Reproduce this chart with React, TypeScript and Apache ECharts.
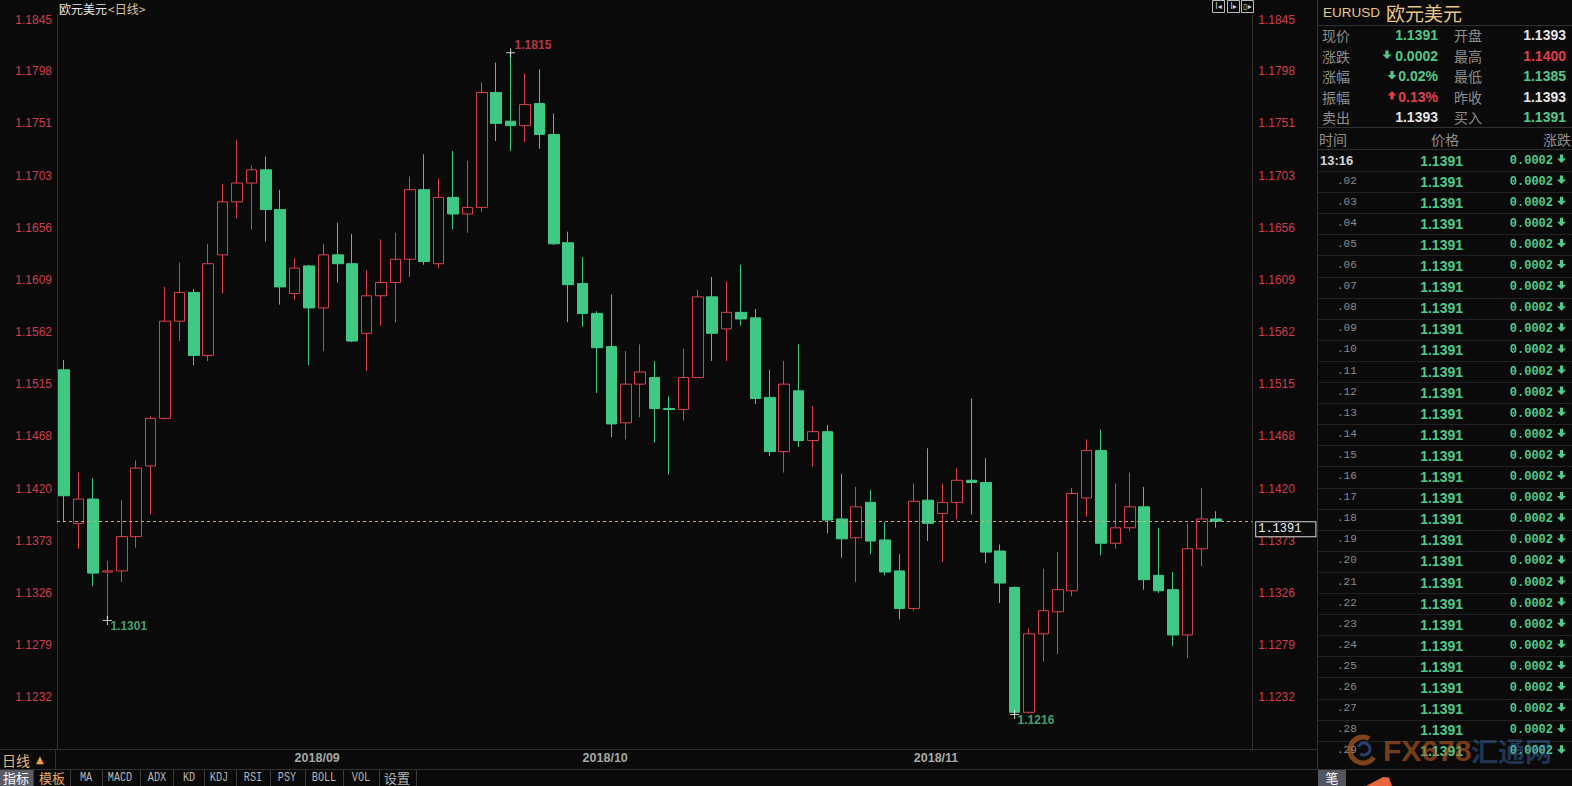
import React, { useEffect, useRef } from 'react';
import * as echarts from 'echarts';

// ---------------- DATA ----------------
const dates = [
  '2018/08/10', '2018/08/13', '2018/08/14', '2018/08/15', '2018/08/16', '2018/08/17', '2018/08/20', '2018/08/21',
  '2018/08/22', '2018/08/23', '2018/08/24', '2018/08/27', '2018/08/28', '2018/08/29', '2018/08/30', '2018/08/31',
  '2018/09/03', '2018/09/04', '2018/09/05', '2018/09/06', '2018/09/07', '2018/09/10', '2018/09/11', '2018/09/12',
  '2018/09/13', '2018/09/14', '2018/09/17', '2018/09/18', '2018/09/19', '2018/09/20', '2018/09/21', '2018/09/24',
  '2018/09/25', '2018/09/26', '2018/09/27', '2018/09/28', '2018/10/01', '2018/10/02', '2018/10/03', '2018/10/04',
  '2018/10/05', '2018/10/08', '2018/10/09', '2018/10/10', '2018/10/11', '2018/10/12', '2018/10/15', '2018/10/16',
  '2018/10/17', '2018/10/18', '2018/10/19', '2018/10/22', '2018/10/23', '2018/10/24', '2018/10/25', '2018/10/26',
  '2018/10/29', '2018/10/30', '2018/10/31', '2018/11/01', '2018/11/02', '2018/11/05', '2018/11/06', '2018/11/07',
  '2018/11/08', '2018/11/09', '2018/11/12', '2018/11/13', '2018/11/14', '2018/11/15', '2018/11/16', '2018/11/19',
  '2018/11/20', '2018/11/21', '2018/11/22', '2018/11/23', '2018/11/26', '2018/11/27', '2018/11/28', '2018/11/29',
  '2018/11/30',
];

const opens = [
  1.1528, 1.1389, 1.1411, 1.1345, 1.1346, 1.1377, 1.1441, 1.1484, 1.1572, 1.1598,
  1.1541, 1.1632, 1.1680, 1.1697, 1.1709, 1.1673, 1.1597, 1.1622, 1.1584, 1.1632,
  1.1624, 1.1561, 1.1595, 1.1607, 1.1628, 1.1691, 1.1624, 1.1684, 1.1669, 1.1675,
  1.1779, 1.1753, 1.1749, 1.1769, 1.1741, 1.1643, 1.1606, 1.1579, 1.1549, 1.1480,
  1.1515, 1.1521, 1.1493, 1.1492, 1.1521, 1.1594, 1.1565, 1.1580, 1.1575, 1.1503,
  1.1454, 1.1509, 1.1464, 1.1472, 1.1393, 1.1376, 1.1408, 1.1374, 1.1346, 1.1312,
  1.1410, 1.1398, 1.1408, 1.1428, 1.1426, 1.1364, 1.1331, 1.1218, 1.1289, 1.1309,
  1.1328, 1.1412, 1.1455, 1.1371, 1.1385, 1.1404, 1.1342, 1.1329, 1.1288, 1.1366,
  1.1393,
];
const closes = [
  1.1414, 1.1411, 1.1344, 1.1346, 1.1377, 1.1439, 1.1484, 1.1572, 1.1598, 1.1541,
  1.1624, 1.1680, 1.1697, 1.1709, 1.1673, 1.1603, 1.1620, 1.1584, 1.1632, 1.1624,
  1.1554, 1.1595, 1.1607, 1.1628, 1.1691, 1.1626, 1.1684, 1.1669, 1.1675, 1.1779,
  1.1751, 1.1749, 1.1768, 1.1741, 1.1642, 1.1605, 1.1579, 1.1548, 1.1479, 1.1515,
  1.1526, 1.1493, 1.1492, 1.1521, 1.1594, 1.1561, 1.1580, 1.1574, 1.1502, 1.1454,
  1.1515, 1.1464, 1.1472, 1.1392, 1.1375, 1.1404, 1.1373, 1.1345, 1.1312, 1.1409,
  1.1389, 1.1408, 1.1428, 1.1426, 1.1363, 1.1335, 1.1218, 1.1289, 1.1310, 1.1329,
  1.1416, 1.1455, 1.1371, 1.1385, 1.1404, 1.1338, 1.1328, 1.1288, 1.1366, 1.1393,
  1.1391,
];
const lows = [
  1.1390, 1.1366, 1.1332, 1.1301, 1.1336, 1.1367, 1.1397, 1.1483, 1.1554, 1.1532,
  1.1536, 1.1597, 1.1665, 1.1655, 1.1644, 1.1587, 1.1591, 1.1532, 1.1545, 1.1607,
  1.1553, 1.1527, 1.1568, 1.1571, 1.1612, 1.1623, 1.1620, 1.1655, 1.1652, 1.1671,
  1.1735, 1.1726, 1.1734, 1.1728, 1.1641, 1.1571, 1.1567, 1.1507, 1.1467, 1.1465,
  1.1485, 1.1462, 1.1433, 1.1482, 1.1521, 1.1536, 1.1536, 1.1568, 1.1497, 1.1450,
  1.1435, 1.1458, 1.1440, 1.1380, 1.1358, 1.1336, 1.1361, 1.1342, 1.1302, 1.1310,
  1.1373, 1.1354, 1.1393, 1.1397, 1.1353, 1.1317, 1.1216, 1.1217, 1.1264, 1.1271,
  1.1323, 1.1395, 1.1360, 1.1366, 1.1382, 1.1329, 1.1326, 1.1278, 1.1267, 1.1350,
  1.1385,
];
const highs = [
  1.1537, 1.1435, 1.1430, 1.1355, 1.1410, 1.1446, 1.1486, 1.1603, 1.1625, 1.1601,
  1.1642, 1.1696, 1.1736, 1.1713, 1.1721, 1.1691, 1.1629, 1.1623, 1.1642, 1.1661,
  1.1651, 1.1618, 1.1646, 1.1652, 1.1703, 1.1723, 1.1701, 1.1726, 1.1717, 1.1788,
  1.1806, 1.1815, 1.1796, 1.1800, 1.1760, 1.1653, 1.1630, 1.1581, 1.1596, 1.1545,
  1.1551, 1.1536, 1.1504, 1.1547, 1.1600, 1.1612, 1.1608, 1.1623, 1.1583, 1.1528,
  1.1536, 1.1551, 1.1495, 1.1478, 1.1434, 1.1422, 1.1419, 1.1390, 1.1361, 1.1425,
  1.1457, 1.1425, 1.1439, 1.1502, 1.1448, 1.1370, 1.1332, 1.1294, 1.1348, 1.1363,
  1.1421, 1.1465, 1.1474, 1.1425, 1.1435, 1.1422, 1.1385, 1.1345, 1.1389, 1.1421,
  1.1400,
];
const emptySlots = ['', ''];

const yTicks = [1.1845, 1.1798, 1.1751, 1.1703, 1.1656, 1.1609, 1.1562, 1.1515, 1.1468, 1.1420, 1.1373, 1.1326, 1.1279, 1.1232];
const Y_MIN = 1.11848;
const Y_MAX = 1.185;

const lastPrice = 1.1391;
const extremeIdx = [31, 3, 66];
const extremeVal = [1.1815, 1.1301, 1.1216];
const extremeKind = ['high', 'low', 'low'];

const symbolName = 'EURUSD';
const symbolCn = '欧元美元';
const quoteLabels1 = ['现价', '涨跌', '涨幅', '振幅', '卖出'];
const quoteValues1 = ['1.1391', '0.0002', '0.02%', '0.13%', '1.1393'];
const quoteTrend1 = ['down', 'down', 'down', 'up', 'flat'];
const quoteArrow1 = [null, 'down', 'down', 'up', null];
const quoteLabels2 = ['开盘', '最高', '最低', '昨收', '买入'];
const quoteValues2 = ['1.1393', '1.1400', '1.1385', '1.1393', '1.1391'];
const quoteTrend2 = ['flat', 'up', 'down', 'flat', 'down'];

const tickHeader = ['时间', '价格', '涨跌'];
const tickTimes = ['13:16', '.02', '.03', '.04', '.05', '.06', '.07', '.08', '.09', '.10', '.11', '.12', '.13', '.14',
  '.15', '.16', '.17', '.18', '.19', '.20', '.21', '.22', '.23', '.24', '.25', '.26', '.27', '.28', '.29'];
const tickPrice = '1.1391';
const tickChange = '0.0002';

const tabs = ['指标', '模板', 'MA', 'MACD', 'ADX', 'KD', 'KDJ', 'RSI', 'PSY', 'BOLL', 'VOL', '设置'];

// ---------------- STYLE ----------------
const BG = '#0a0a0a';
const RED = '#dc404c';
const GREEN = '#3fc985';
const TXT_GREEN = '#52c98a';
const TXT_RED = '#e0404c';
const TXT_WHITE = '#e4e4e4';
const LABEL_GRAY = '#8e8e8e';
const LINE = '#303030';
const SANS = '"Liberation Sans", Arial, sans-serif';
const CJK = '"Noto Sans CJK SC", "Noto Sans", sans-serif';
const MONO = '"Liberation Mono", "DejaVu Sans Mono", monospace';

const trendColor = (t: string | null) => (t === 'up' ? TXT_RED : t === 'down' ? TXT_GREEN : TXT_WHITE);

function txt(x: number, y: number, text: string, fill: string, size: number, o: any = {}) {
  const el: any = {
    type: 'text', x, y, silent: true, z: o.z ?? 50,
    style: {
      text, fill, fontSize: size, fontFamily: o.family || SANS, fontWeight: o.weight || 'normal',
      align: o.align || 'left', verticalAlign: 'middle', opacity: o.opacity ?? 1,
    },
  };
  if (o.scaleX) el.scaleX = o.scaleX;
  return el;
}
function ln(x1: number, y1: number, x2: number, y2: number, stroke = LINE) {
  return { type: 'line', silent: true, z: 40, shape: { x1, y1, x2, y2 }, style: { stroke, lineWidth: 1 } };
}
function arrow(cx: number, cy: number, dir: string, fill: string) {
  const s = dir === 'down' ? 1 : -1;
  const pts = [
    [cx - 1.6, cy - 4 * s], [cx + 1.6, cy - 4 * s], [cx + 1.6, cy], [cx + 4.5, cy],
    [cx, cy + 4.5 * s], [cx - 4.5, cy], [cx - 1.6, cy],
  ];
  return { type: 'polygon', silent: true, z: 50, shape: { points: pts }, style: { fill } };
}

function buildGraphic() {
  const g: any[] = [];
  // header of the chart
  g.push(txt(59, 8, '欧元美元', '#e8e8e8', 12, { family: CJK }));
  g.push(txt(108, 8, '<日线>', '#d9c6a0', 12, { family: CJK }));
  // small icons top right
  [1212, 1227, 1241].forEach((x, i) => {
    g.push({ type: 'rect', silent: true, z: 50, shape: { x: x + 0.5, y: 0.5, width: 12, height: 12 }, style: { fill: 'none', stroke: '#bdbdbd', lineWidth: 1 } });
    g.push(txt(x + 6.5, 6.5, ['I◂', 'I▸', '▯▸'][i], '#cfcfcf', 8, { align: 'center', family: '"DejaVu Sans", sans-serif' }));
  });

  // separators
  g.push(ln(1317.5, 0, 1317.5, 770));
  g.push(ln(0, 749.5, 57, 749.5));
  g.push(ln(1252, 749.5, 1317, 749.5));
  g.push(ln(55.5, 749.5, 55.5, 769.5));
  g.push(ln(0, 769.5, 1572, 769.5));

  // right panel : title
  g.push(txt(1323, 12, symbolName, '#e6c58a', 13.5));
  g.push(txt(1386, 12, symbolCn, '#e6c58a', 19, { family: CJK }));
  g.push(ln(1318, 25.5, 1572, 25.5));
  const rowY = [35, 55.5, 76, 96.5, 117];
  rowY.forEach((y, i) => {
    g.push(txt(1322, y, quoteLabels1[i], LABEL_GRAY, 14, { family: CJK }));
    g.push(txt(1438, y, quoteValues1[i], trendColor(quoteTrend1[i]), 14, { align: 'right', weight: 'bold' }));
    const a = quoteArrow1[i];
    if (a) g.push(arrow(quoteValues1[i].length === 6 ? 1387 : 1392, y - 1, a, trendColor(quoteTrend1[i])));
    g.push(txt(1454, y, quoteLabels2[i], LABEL_GRAY, 14, { family: CJK }));
    g.push(txt(1566, y, quoteValues2[i], trendColor(quoteTrend2[i]), 14, { align: 'right', weight: 'bold' }));
  });
  g.push(ln(1318, 127.5, 1572, 127.5));
  g.push(txt(1319, 138.5, tickHeader[0], LABEL_GRAY, 14, { family: CJK }));
  g.push(txt(1445, 138.5, tickHeader[1], LABEL_GRAY, 14, { family: CJK, align: 'center' }));
  g.push(txt(1571, 138.5, tickHeader[2], LABEL_GRAY, 14, { family: CJK, align: 'right' }));
  g.push(ln(1318, 149.5, 1572, 149.5));
  tickTimes.forEach((t, k) => {
    const y = 160.5 + 21.1 * k;
    if (k === 0) g.push(txt(1320, y, t, '#d6d6d6', 13, { weight: 'bold' }));
    else g.push(txt(1337, y - 1, t, '#8a8a8a', 11, { family: MONO }));
    g.push(txt(1463, y, tickPrice, TXT_GREEN, 14, { align: 'right', weight: 'bold' }));
    g.push(txt(1553, y, tickChange, TXT_GREEN, 12, { align: 'right', weight: 'bold', family: MONO }));
    g.push(arrow(1561.5, y - 2, 'down', TXT_GREEN));
    if (k < tickTimes.length - 1) g.push(ln(1318, Math.round(171 + 21.1 * k) + 0.5, 1572, Math.round(171 + 21.1 * k) + 0.5, '#222'));
  });

  // bottom-left period box
  g.push(txt(2, 759.5, '日线', '#e8b878', 14, { family: CJK }));
  g.push(txt(36, 759, '▲', '#f0a040', 10, { family: '"DejaVu Sans", sans-serif' }));

  // tab bar
  const centers = [16, 52, 86, 120, 157, 189, 219, 253, 287, 324, 361, 397];
  const seps = [33, 70, 102, 140, 173, 204, 236, 270, 305, 343, 379, 416];
  g.push({ type: 'rect', silent: true, z: 41, shape: { x: 0, y: 770, width: 33, height: 16 }, style: { fill: '#5b5b66' } });
  tabs.forEach((t, i) => {
    const isCn = /[\u4e00-\u9fff]/.test(t);
    const color = i === 0 ? '#ffffff' : i === 1 ? '#e8a860' : '#b5b5b5';
    if (isCn) g.push(txt(centers[i], 777.5, t, color, 13, { family: CJK, align: 'center' }));
    else g.push(txt(centers[i], 778, t, color, 12, { family: MONO, align: 'center', scaleX: 0.85 }));
    g.push(ln(seps[i] + 0.5, 770, seps[i] + 0.5, 786, '#3a3a3a'));
  });
  g.push({ type: 'rect', silent: true, z: 41, shape: { x: 1318, y: 770, width: 28, height: 16 }, style: { fill: '#55555f' } });
  g.push(txt(1332, 777.5, '笔', '#ffffff', 13, { family: CJK, align: 'center' }));
  g.push({ type: 'polygon', silent: true, z: 42, shape: { points: [[1366, 786], [1383, 777], [1389, 777.5], [1392, 786]] }, style: { fill: '#e8643c' } });

  // watermark
  g.push({ type: 'arc', silent: true, z: 90, shape: { cx: 1363, cy: 750, r: 13, startAngle: 0.6, endAngle: 5.2 }, style: { stroke: 'rgba(205,105,40,0.6)', lineWidth: 5, fill: 'none' } });
  g.push({ type: 'arc', silent: true, z: 90, shape: { cx: 1364, cy: 749, r: 6, startAngle: 3.5, endAngle: 8.5 }, style: { stroke: 'rgba(60,110,190,0.55)', lineWidth: 3, fill: 'none' } });
  g.push(txt(1383, 750, 'FX678', 'rgba(190,95,35,0.6)', 30, { weight: 'bold', z: 91 }));
  g.push(txt(1471, 750, '汇通网', 'rgba(70,125,200,0.4)', 27, { weight: 'bold', family: CJK, z: 91 }));
  return g;
}

function buildOption() {
  const cats = [...dates, ...emptySlots];
  const ohlc = dates.map((_, i) => [opens[i], closes[i], lows[i], highs[i]]);
  const yAxisBase = (pos: 'left' | 'right', margin: number) => ({
    type: 'value', position: pos, min: Y_MIN, max: Y_MAX, scale: true,
    axisLine: { show: true, lineStyle: { color: LINE } },
    axisTick: { show: false },
    splitLine: { show: false },
    axisLabel: {
      customValues: yTicks, formatter: (v: number) => v.toFixed(4), color: '#cf3e4a',
      fontSize: 12, fontFamily: SANS, margin, padding: [0, 0, 5, 0],
    },
  });
  return {
    animation: false,
    backgroundColor: BG,
    grid: { left: 57, top: 14, width: 1195.2, height: 735, containLabel: false, outerBoundsMode: 'none' },
    xAxis: {
      type: 'category', data: cats, boundaryGap: true,
      axisLine: { show: true, lineStyle: { color: LINE } },
      axisTick: { show: false },
      splitLine: { show: false },
      axisLabel: {
        interval: (i: number, v: string) => i > 0 && i < dates.length && v.slice(5, 7) !== dates[i - 1].slice(5, 7),
        formatter: (v: string) => v.slice(0, 7),
        align: 'left', color: '#a8a8a8', fontWeight: 'bold', fontSize: 12.5, fontFamily: SANS, margin: 2,
      },
    },
    yAxis: [yAxisBase('left', 5), yAxisBase('right', 6)],
    series: [
      {
        type: 'candlestick', data: ohlc, barWidth: 11, clip: false,
        itemStyle: { color: BG, color0: GREEN, borderColor: RED, borderColor0: GREEN, borderWidth: 1 },
        emphasis: { disabled: true },
      },
      {
        type: 'scatter', z: 5, silent: true,
        symbol: 'path://M0 4H9V5H0Z M4 0H5V9H4Z', symbolSize: 9,
        itemStyle: { color: '#ffffff' },
        data: extremeIdx.map((idx, i) => ({
          value: [idx, extremeVal[i]],
          label: {
            show: true, formatter: extremeVal[i].toFixed(4),
            position: extremeKind[i] === 'high' ? [8.5, -9.5] : [7.5, 4],
            color: extremeKind[i] === 'high' ? '#e0465a' : '#56c68c',
            fontWeight: 'bold', fontSize: 12, fontFamily: SANS,
          },
        })),
        markLine: {
          silent: true, symbol: ['none', 'none'], animation: false, precision: 4,
          data: [{ yAxis: lastPrice }],
          lineStyle: { color: '#cfa577', type: [3, 3], width: 1 },
          emphasis: { disabled: true },
          label: {
            show: true, position: 'end', distance: 4, formatter: lastPrice.toFixed(4),
            color: '#f0f0f0', fontFamily: MONO, fontSize: 12, backgroundColor: BG,
            borderColor: '#d8d8d8', borderWidth: 1, padding: [1, 14, 1, 2], offset: [0, 8],
          },
        },
      },
    ],
    graphic: buildGraphic(),
  };
}

export default function App() {
  const ref = useRef<HTMLDivElement>(null);
  useEffect(() => {
    document.body.style.margin = '0';
    document.body.style.background = BG;
    document.body.style.overflow = 'hidden';
    const chart = echarts.init(ref.current as HTMLDivElement, null, { renderer: 'svg' });
    chart.setOption(buildOption() as any);
    return () => chart.dispose();
  }, []);
  return <div ref={ref} style={{ width: 1572, height: 786 }} />;
}
